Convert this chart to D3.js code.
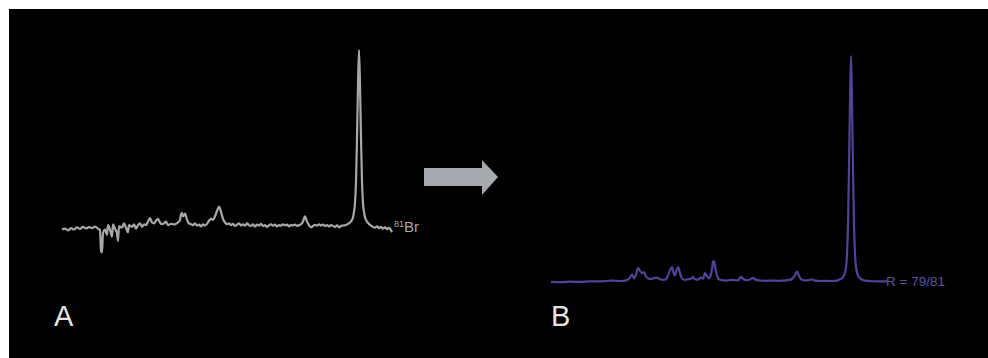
<!DOCTYPE html>
<html>
<meta charset="utf-8">
<style>
 body { margin: 0; background: #fff; }
 .panel_label { font-family: "Liberation Sans", Arial, sans-serif; font-size: 29px; fill: #e4e4e4; }
</style>
<body>
<script src="https://d3js.org/d3.v7.min.js"></script>
<script>

var width = 988
var height = 358

// spectrum A (81Br), channel vs relative intensity
var specA = [[0,-2],[3,-1.5],[6,-2.5],[9,-1.2],[12,-2],[15,-0.8],[18,-1.6],[21,-0.5],[24,-1.4],[27,-0.6],[30,-1.2],[33,-0.4],[36,-1.5],[38,-2.5],[39,-14],[40,-15],[41,-4],[43,-2],[45,-5],[46,0.5],[48,-2],[50,-6],[51,1],[53,-1.5],[55,-4],[56,-8.5],[57,0],[60,-1],[62,1.5],[64,-1],[66,-3.5],[67,0.5],[70,-0.5],[72,1],[74,-1.5],[76,0.5],[78,1.5],[80,-0.5],[82,1],[84,0.5],[86,2.5],[88,4.5],[90,2],[92,1.5],[94,3],[96,4],[98,2],[100,1],[102,1.5],[104,2.5],[106,0.5],[108,1],[110,1.2],[112,0.8],[114,1.3],[116,2],[118,3.5],[119,6.5],[120,7.5],[121,5.5],[122,6],[123,7],[125,3.5],[127,1.5],[129,1],[131,0.5],[133,1.5],[135,0.2],[137,0.8],[139,-0.2],[141,1],[143,0.3],[145,1.2],[147,3],[149,4],[151,3.5],[153,5.5],[155,8.5],[157,11],[159,8],[161,4],[163,2],[165,1],[167,1.5],[169,0.5],[171,1.2],[173,0],[175,0.8],[177,1.5],[179,0.3],[181,1],[183,0.2],[185,1.5],[187,0.5],[189,0],[191,1],[193,-0.3],[195,0.8],[197,0.3],[199,1.2],[201,0],[203,0.5],[205,-0.5],[207,0.4],[209,1],[211,0.2],[213,0.8],[215,-0.3],[217,0.5],[219,0.2],[221,1],[223,0.4],[225,0.8],[227,-0.2],[229,0.6],[231,0.3],[233,0.8],[235,0],[237,0.5],[239,1],[241,2.5],[243,5.5],[245,2.5],[247,0.5],[249,-0.8],[251,0],[253,0.6],[255,0.2],[257,1],[259,0.3],[261,0.8],[263,0],[265,0.5],[267,-0.3],[269,0.5],[271,0],[273,-0.5],[275,0.3],[277,-0.8],[279,0],[281,0.3],[284,0.6],[286,1.2],[288,2],[290,3.5],[291,5],[292,8],[293,13],[294,25],[295,50],[296,80],[297,100],[298,80],[299,50],[300,25],[301,13],[302,8],[303,5],[305,2.5],[307,1.2],[309,0.2],[311,-0.5],[313,-1],[315,-0.2],[317,-1.2],[319,-0.5],[321,-1.5],[323,-0.8],[325,-1.8],[327,-1],[328,-1.5],[330,-3.5]]

// spectrum B (R = 79/81)
var specB = [[0,-0.4],[10,-0.5],[20,-0.3],[30,-0.4],[40,-0.1],[50,-0.2],[60,0.2],[70,0],[75,0.3],[79,1.5],[81,3],[83,1.2],[85,2.8],[87,5.8],[89,4.5],[91,3.5],[93,4],[95,2],[97,1.2],[100,0.8],[103,1.3],[106,1.5],[109,0.8],[112,0.5],[115,0.7],[117,2.5],[119,4.8],[121,6.2],[123,3],[124,2.5],[125,4],[127,6.2],[129,3.5],[131,1.2],[134,0.5],[137,0.8],[140,1],[142,1.8],[144,0.8],[147,0.6],[150,1.5],[152,1],[154,3.5],[156,2],[158,1.2],[160,3],[161,5.5],[162,8.5],[163,8.8],[164,6.5],[166,2.5],[168,0.8],[171,0.4],[175,0.2],[180,0.5],[187,0.3],[190,1.8],[192,1],[195,0.4],[199,0.7],[202,1.4],[205,0.5],[210,0.2],[215,0.1],[220,0.2],[228,0.1],[235,0.3],[240,0.6],[242,1.5],[244,2.5],[246,4.2],[248,2.3],[250,0.8],[253,0.3],[258,0.4],[261,0.7],[264,0.2],[270,0],[275,0.1],[280,0],[286,0.2],[289,0.8],[291,1.2],[293,2.5],[295,6],[296,12],[297,25],[298,50],[299,80],[300,100],[301,80],[302,50],[303,25],[304,12],[305,6],[307,2.5],[309,1.2],[312,0.4],[318,0],[325,-0.2],[336,-0.2]]

var labelA = "A", labelB = "B"
var tagA = ["81", "Br"]
var tagB = "R = 79/81"

var svg = d3.select("body")
      .append("svg")
      .attr("width", width)
      .attr("height", height);

svg.append("rect")
  .attr("x", 9).attr("y", 9)
  .attr("width", width - 9).attr("height", height - 9)
  .attr("fill", "#000");

var xA = d3.scaleLinear().domain([0, 330]).range([62, 392]);
var yA = d3.scaleLinear().domain([0, 100]).range([226, 50]);
var xB = d3.scaleLinear().domain([0, 336]).range([551, 887]);
var yB = d3.scaleLinear().domain([0, 100]).range([281, 56]);

var lineA = d3.line().x(function (d) { return xA(d[0]); }).y(function (d) { return yA(d[1]); }).curve(d3.curveMonotoneX);
var lineB = d3.line().x(function (d) { return xB(d[0]); }).y(function (d) { return yB(d[1]); }).curve(d3.curveMonotoneX);

svg.append("path")
  .datum(specA)
  .attr("d", lineA)
  .attr("fill", "none")
  .attr("stroke", "#a8a8a8")
  .attr("stroke-width", 2.2)
  .attr("stroke-linejoin", "round");

svg.append("path")
  .datum(specB)
  .attr("d", lineB)
  .attr("fill", "none")
  .attr("stroke", "#4f4498")
  .attr("stroke-width", 2.2)
  .attr("stroke-linejoin", "round");

// 81Br tag
var tA = svg.append("text")
  .attr("x", xA(330) + 2)
  .attr("y", yA(0) + 6)
  .attr("fill", "#a8a8a8")
  .style("font-family", "Liberation Sans, Arial, sans-serif")
  .style("font-size", "15px");
tA.append("tspan").attr("dy", -5).style("font-size", "9px").text(tagA[0]);
tA.append("tspan").attr("dy", 5).text(tagA[1]);

svg.append("text")
  .attr("x", xB(336) - 1)
  .attr("y", yB(0) + 5)
  .attr("fill", "#5c52a8")
  .style("font-family", "Liberation Sans, Arial, sans-serif")
  .style("font-size", "13.5px")
  .text(tagB);

// arrow between panels
svg.append("path")
  .attr("d", "M424,168 L482,168 L482,160 L498,177 L482,195 L482,186 L424,186 Z")
  .attr("fill", "#a6a9ae");

svg.append("text").attr("class", "panel_label").attr("x", 54).attr("y", 326).text(labelA);
svg.append("text").attr("class", "panel_label").attr("x", 551).attr("y", 326).text(labelB);

</script>
</body>
</html>
